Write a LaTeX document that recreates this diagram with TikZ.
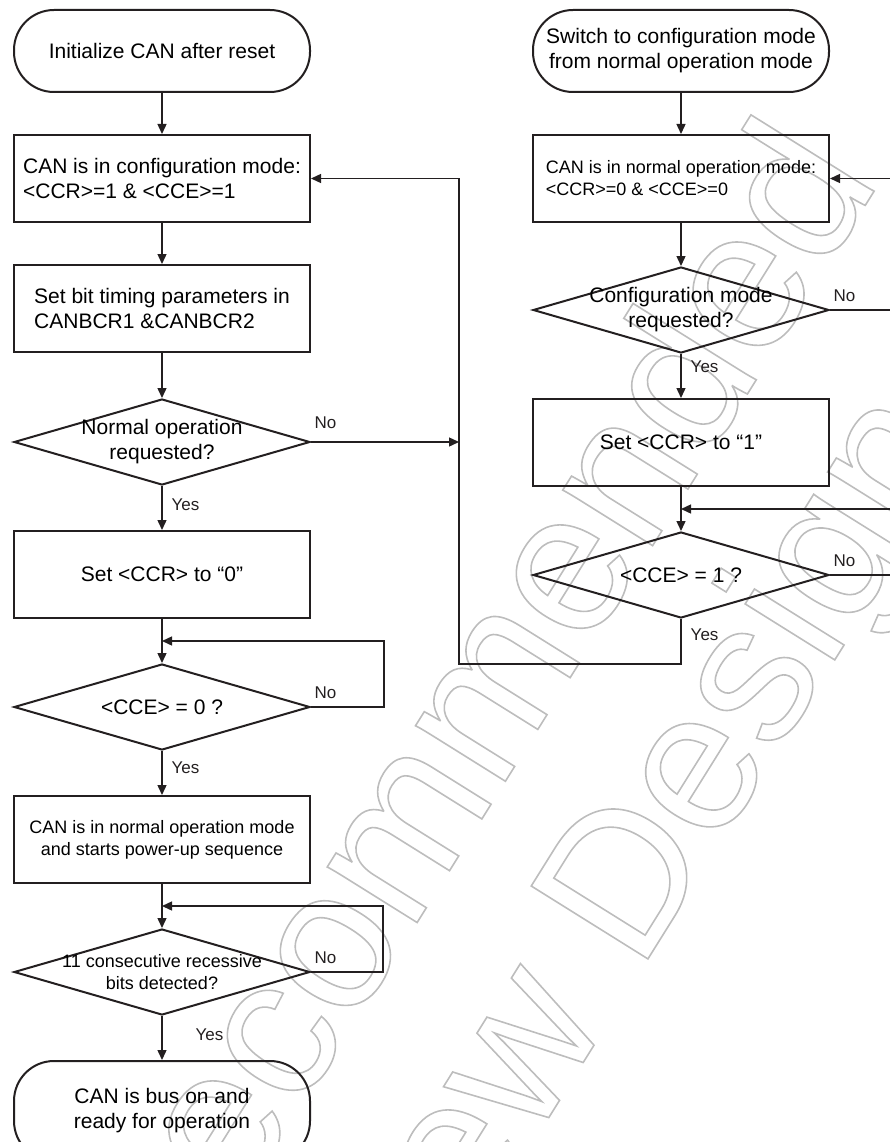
\documentclass[tikz,border=0pt]{standalone}
\usepackage{fontspec}
\setmainfont{Liberation Sans}
\usepackage{xcolor}
\usetikzlibrary{positioning,arrows.meta,shapes.geometric,calc}
\definecolor{FlowInk}{HTML}{231F20}
\definecolor{StampGray}{gray}{0.74}
\newcommand{\flowfont}{\fontsize{21}{25}\selectfont}
\newcommand{\notefont}{\fontsize{18}{22}\selectfont}
\newcommand{\answerfont}{\fontsize{17}{20}\selectfont}

\begin{document}
\begin{tikzpicture}[x=1pt, y=-1pt, node distance=45pt,
        terminal/.style={rectangle, draw=FlowInk, line width=2pt, rounded corners=40pt, minimum width=296pt, minimum height=82pt, inner sep=0pt, align=center, font=\flowfont},
        process/.style={rectangle, draw=FlowInk, line width=2pt, minimum width=296pt, minimum height=87pt, inner sep=0pt, align=center, font=\flowfont},
        decision/.style={diamond, draw=FlowInk, line width=2pt, minimum width=296pt, minimum height=86pt, inner sep=0pt},
        question/.style={align=center, font=\flowfont, inner sep=0pt},
        arrow/.style={draw=FlowInk, line width=1.4pt, -{Triangle[length=10pt,width=9pt]}},
        line/.style={draw=FlowInk, line width=1.4pt},
        yeslabel/.style={font=\answerfont, text=FlowInk, inner sep=2pt, anchor=west, xshift=7pt},
        nolabel/.style={font=\answerfont, text=FlowInk, inner sep=2pt, pos=0, anchor=south west, xshift=1pt, yshift=6pt},
        stamp/.style={rotate=58, text=StampGray, align=center, inner sep=0pt,
            font=\fontsize{200}{215}\selectfont\special{pdf:literal direct 1 Tr 1.6 w},
            execute at end node=\special{pdf:literal direct 0 Tr}}
    ]
        \useasboundingbox (0,0) rectangle (890,1142);
        \clip (0,0) rectangle (890,1142);

        % watermark behind the chart
        \node [stamp] (stampnote) at (472,940) {Not Recommended\\for New Design};

        % start-up sequence
        \node [terminal] (init) at (162,51) {Initialize CAN after reset};
        \node [process, align=left, below=41pt of init] (cfgmode) {CAN is in configuration mode:\\<CCR>=1 \& <CCE>=1};
        \node [process, align=left, below=41pt of cfgmode] (bittime) {Set bit timing parameters in\\CANBCR1 \&CANBCR2};
        \node [decision, below=45pt of bittime, label={[question]center:Normal operation\\requested?}] (normreq) {};
        \node [process, below=44pt of normreq] (setzero) {Set <CCR> to “0”};
        \node [decision, below=44pt of setzero, label={[question]center:<CCE> = 0 ?}] (ccezero) {};
        \node [process, font=\notefont, below=44pt of ccezero] (normmode) {CAN is in normal operation mode\\and starts power-up sequence};
        \node [decision, below=44pt of normmode, label={[question, font=\notefont]center:11 consecutive recessive\\bits detected?}] (recbits) {};
        \node [terminal, minimum height=100pt, below=44pt of recbits] (buson) {CAN is bus on and\\ready for operation};

        % switching back to configuration
        \node [terminal, right=221pt of init] (switchcfg) {Switch to configuration mode\\from normal operation mode};
        \node [process, align=left, font=\notefont, below=41pt of switchcfg] (nrmmode) {CAN is in normal operation mode:\\<CCR>=0 \& <CCE>=0};
        \node [decision, below=43pt of nrmmode, label={[question]center:Configuration mode\\requested?}] (cfgreq) {};
        \node [process, below=44pt of cfgreq] (setone) {Set <CCR> to “1”};
        \node [decision, below=44pt of setone, label={[question]center:<CCE> = 1 ?}] (cceone) {};

        \coordinate (ret) at (459,664);
        \coordinate (border) at (890,0);
        \coordinate (jzero) at ($(setzero.south)!.5!(ccezero.north)$);
        \coordinate (jbits) at ($(normmode.south)!.5!(recbits.north)$);
        \coordinate (jone) at ($(setone.south)!.5!(cceone.north)$);

        \draw [arrow] (init) -- (cfgmode);
        \draw [arrow] (cfgmode) -- (bittime);
        \draw [arrow] (bittime) -- (normreq);
        \draw [arrow] (normreq) -- node[yeslabel, pos=.42] {Yes} (setzero);
        \draw [arrow] (normreq.east) -- node[nolabel, yshift=5pt] {No} (normreq.east -| ret);
        \draw [arrow] (setzero) -- (ccezero);
        \draw [arrow] (ccezero.east) -- node[nolabel] {No} ++(73,0) |- (jzero);
        \draw [arrow] (ccezero) -- node[yeslabel, pos=.39] {Yes} (normmode);
        \draw [arrow] (normmode) -- (recbits);
        \draw [arrow] (recbits.east) -- node[nolabel] {No} ++(72,0) |- (jbits);
        \draw [arrow] (recbits) -- node[yeslabel, pos=.43, xshift=24pt] {Yes} (buson);

        \draw [arrow] (switchcfg) -- (nrmmode);
        \draw [arrow] (nrmmode.east -| border) -- (nrmmode.east);
        \draw [arrow] (nrmmode) -- (cfgreq);
        \draw [line] (cfgreq.east) -- node[nolabel] {No} (cfgreq.east -| border);
        \draw [arrow] (cfgreq) -- node[yeslabel, pos=.3] {Yes} (setone);
        \draw [arrow] (setone) -- (cceone);
        \draw [arrow] (jone -| border) -- (jone);
        \draw [line] (cceone.east) -- node[nolabel] {No} (cceone.east -| border);
        \draw [arrow] (cceone.south) |- node[yeslabel, pos=.18] {Yes} (ret) |- (cfgmode.east);
    \end{tikzpicture}
\end{document}
